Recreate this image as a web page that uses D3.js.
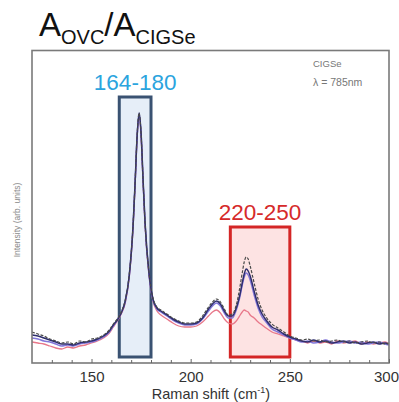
<!DOCTYPE html>
<html><head><meta charset="utf-8">
<script src="https://cdn.jsdelivr.net/npm/d3@7"></script>
<style>body{margin:0;background:#fff}svg{display:block}</style>
</head><body>
<svg id="c" width="399" height="402"></svg>
<script>
const shift = [120,123,126,129,132,135,138,141,144,147,150,153,156,159,161,163,165,167,169,171,172,173,174,175,176,177,179,181,183,185,188,191,194,197,200,203,206,209,211,213,215,217,219,221,223,225,226,227,228,229,230,232,234,236,238,241,244,247,250,253,256,259,262,265,268,271,274,277,280,283,286,289,292,295,298,300];
const blackS = [31,29,27,24,22,20,21,19,22,21,24,25,28,33,39,44,51,63,88,140,182,228,250,229,183,140,90,65,56,53,49,45,42,40,40,41,47,56,61,64,61,54,48,49,58,78,90,101,106,104,97,80,64,53,46,39,35,31,27,25,23,24,22,23,21,22,23,21,22,20,21,22,20,21,19,20];
const navyS = [28,27,25,23,21,19,19,18,20,21,22,24,27,32,38,43,50,62,87,139,181,227,250,230,184,141,90,64,55,52,48,44,41,39,39,40,45,54,59,62,59,52,47,47,55,70,80,89,94,92,87,72,58,49,43,36,33,29,26,24,22,21,23,21,22,20,21,22,20,21,19,20,21,19,20,19];
const purpleS = [25,24,22,21,19,17,18,17,19,20,21,23,26,31,37,43,50,61,86,138,180,226,249,228,182,139,88,63,54,51,47,43,40,38,38,39,44,52,57,60,57,50,45,45,53,68,78,86,90,88,83,68,55,46,41,34,31,28,25,23,21,22,20,21,23,21,20,21,22,20,21,19,20,21,19,18];
const redS = [21,20,19,17,15,14,16,15,17,18,20,22,25,30,36,42,49,60,85,137,179,225,248,227,181,138,87,62,52,48,44,40,37,36,36,37,41,47,51,53,50,44,40,39,42,48,51,53,52,51,48,45,41,38,35,31,29,27,25,23,22,20,22,20,21,19,22,20,21,22,19,21,19,20,21,19];
const seriesNames = ["red","purple","navy","black"];
const xTicks = [150,200,250,300];
const regionX0 = [164,220];
const regionX1 = [180,250];
const regionTop = [266,136];
const regionLabels = ["164-180","220-250"];

const svg = d3.select("#c");
const L=32, R=389, T=50.5, B=363;
const x = d3.scaleLinear().domain([120,300]).range([L,R]);
const y = d3.scaleLinear().domain([0,312.5]).range([B,T]);

svg.append("defs").append("clipPath").attr("id","clip").append("rect")
  .attr("x",L).attr("y",T).attr("width",R-L).attr("height",B-T);

// regions
const boxStroke = ["#3a5272","#d42626"];
const boxFill = ["#e6eef8","#fde3e3"];
const labelCol = ["#2ba4de","#d62a2a"];
regionX0.forEach((x0,i)=>{
  svg.append("rect").attr("x",x(x0)).attr("y",y(regionTop[i]))
    .attr("width",x(regionX1[i])-x(x0)).attr("height",y(6)-y(regionTop[i]))
    .attr("fill",boxFill[i]).attr("stroke",boxStroke[i]).attr("stroke-width",3);
  svg.append("text").attr("x",(x(x0)+x(regionX1[i]))/2).attr("y",y(regionTop[i])-7)
    .attr("text-anchor","middle").attr("font-family","Liberation Sans, Arial, sans-serif")
    .attr("font-size",22.5).attr("fill",labelCol[i]).text(regionLabels[i]);
});

// lines
const data = {red:redS, purple:purpleS, navy:navyS, black:blackS};
const colors = {red:"#e8788a", purple:"#8276da", navy:"#2e2e6e", black:"#4a4a4a"};
const widths = {red:1.3, purple:1.5, navy:1.5, black:1.2};
const line = d3.line().x((d,i)=>x(shift[i])).y(d=>y(d)).curve(d3.curveMonotoneX);
const g = svg.append("g").attr("clip-path","url(#clip)");
seriesNames.forEach(n=>{
  g.append("path").datum(data[n]).attr("d",line).attr("fill","none")
    .attr("stroke",colors[n]).attr("stroke-width",widths[n])
    .attr("stroke-dasharray", n==="black" ? "3,1.5" : null);
});

// frame
svg.append("rect").attr("x",L).attr("y",T).attr("width",R-L).attr("height",B-T)
  .attr("fill","none").attr("stroke","#7a7a7a").attr("stroke-width",1.6);

// x axis
const ax = svg.append("g").attr("transform",`translate(0,${B})`)
  .call(d3.axisBottom(x).tickValues(xTicks).tickSize(-4).tickPadding(8).tickFormat(d3.format("d")));
ax.select(".domain").remove();
ax.selectAll("line").attr("stroke","#666");
ax.selectAll("text").attr("font-family","Liberation Sans, Arial, sans-serif").attr("font-size",15).attr("fill","#333");
ax.selectAll("text").filter(d=>d===300).attr("dx",-3);
const minor = d3.range(130,300,10).filter(v=>!xTicks.includes(v));
svg.append("g").attr("transform",`translate(0,${B})`)
  .call(d3.axisBottom(x).tickValues(minor).tickSize(-3).tickFormat(""))
  .call(s=>{s.select(".domain").remove(); s.selectAll("line").attr("stroke","#666");});

// x label
const xl = svg.append("text").attr("x",211).attr("y",399).attr("text-anchor","middle")
  .attr("font-family","Liberation Sans, Arial, sans-serif").attr("font-size",14.5).attr("fill","#333");
xl.append("tspan").text("Raman shift (cm");
xl.append("tspan").attr("font-size",9).attr("dy",-6).text("-1");
xl.append("tspan").attr("dy",6).text(")");

// y label
svg.append("text").attr("transform","translate(20,220) rotate(-90)").attr("text-anchor","middle")
  .attr("font-family","Liberation Sans, Arial, sans-serif").attr("font-size",8.5).attr("fill","#8a8a8a")
  .text("Intensity (arb. units)");

// annotation
svg.append("text").attr("x",313).attr("y",67).attr("font-family","Liberation Sans, Arial, sans-serif")
  .attr("font-size",9.5).attr("fill","#777").text("CIGSe");
svg.append("text").attr("x",313).attr("y",86).attr("font-family","Liberation Sans, Arial, sans-serif")
  .attr("font-size",10.5).attr("fill","#777").text("λ = 785nm");

// title
const t = svg.append("text").attr("x",39).attr("y",36).attr("font-family","Liberation Sans, Arial, sans-serif")
  .attr("font-size",33).attr("fill","#111");
t.append("tspan").text("A");
t.append("tspan").attr("font-size",20).attr("dy",8).text("OVC");
t.append("tspan").attr("dy",-8).text("/A");
t.append("tspan").attr("font-size",20).attr("dy",8).text("CIGSe");
</script>
</body></html>
